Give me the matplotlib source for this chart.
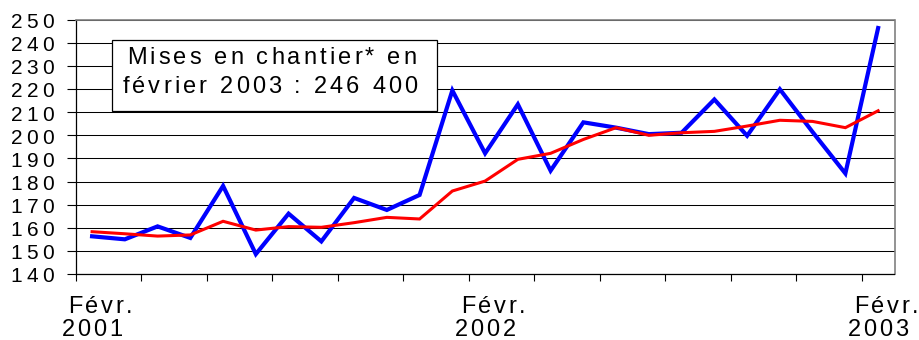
import matplotlib
matplotlib.use("Agg")
import matplotlib.pyplot as plt
from matplotlib.font_manager import FontProperties, findfont, get_font
from matplotlib.patches import Rectangle
import numpy as np

# Housing starts, rolling 12-month totals (thousands), Feb 2001 .. Feb 2003
months = ["2001-02", "2001-03", "2001-04", "2001-05", "2001-06", "2001-07",
          "2001-08", "2001-09", "2001-10", "2001-11", "2001-12", "2002-01",
          "2002-02", "2002-03", "2002-04", "2002-05", "2002-06", "2002-07",
          "2002-08", "2002-09", "2002-10", "2002-11", "2002-12", "2003-01",
          "2003-02"]
starts = [156.3, 155.0, 160.6, 155.6, 178.1, 148.6, 166.1, 154.1, 172.9,
          167.7, 174.2, 219.4, 192.2, 213.4, 184.7, 205.6, 203.3, 200.5,
          201.1, 215.5, 199.8, 219.9, 201.4, 183.5, 246.4]
trend = [158.3, 157.4, 156.4, 156.9, 162.8, 159.0, 160.5, 160.2, 162.2,
         164.5, 163.8, 175.9, 180.2, 189.6, 192.2, 198.2, 203.3, 200.0,
         201.1, 201.7, 204.0, 206.5, 206.0, 203.3, 210.6]

y_ticks = list(range(140, 251, 10))
label_index = [0, 12, 24]
label_month = ["Févr.", "Févr.", "Févr."]
label_year = ["2001", "2002", "2003"]
note_lines = ["Mises en chantier* en", "février 2003 : 246 400"]

FONT = "Liberation Sans"
W, H = 919, 340


def glyph_advances(text, prop):
    font = get_font(findfont(prop))
    font.set_size(prop.get_size_in_points(), 72)
    return [font.load_char(ord(c)).linearHoriAdvance / 65536 for c in text]


def spaced_text(ax, xy, text, size, tracking, xycoords, ha="center",
                dx=0.0, dy=0.0, color="black", zorder=6):
    """Draw text with extra letter spacing (tracking, in points)."""
    prop = FontProperties(family=FONT, size=size)
    adv = glyph_advances(text, prop)
    total = sum(adv) + tracking * (len(text) - 1)
    pos = dx + {"left": 0.0, "center": -total / 2, "right": -total}[ha]
    for ch, a in zip(text, adv):
        if not ch.isspace():
            ax.annotate(ch, xy=xy, xycoords=xycoords, xytext=(pos, dy),
                        textcoords="offset points", ha="left", va="baseline",
                        fontproperties=prop, color=color,
                        annotation_clip=False, zorder=zorder)
        pos += a + tracking


fig = plt.figure(figsize=(W / 100, H / 100), dpi=100)
left, right, top, bottom = 75.7, 894.5, 19.7, 274.0
ax = fig.add_axes([left / W, (H - bottom) / H, (right - left) / W, (bottom - top) / H])

x = np.arange(len(months))
ax.plot(x, starts, color="#0000FF", lw=3.0, zorder=3, solid_joinstyle="miter")
ax.plot(x, trend, color="#FF0000", lw=2.2, zorder=4, solid_joinstyle="miter")

ax.set_xlim(-0.5, len(months) - 0.5)
ax.set_ylim(y_ticks[0], y_ticks[-1])
ax.set_xticks(np.arange(-0.5, len(months) - 1, 2))
ax.set_yticks(y_ticks)
ax.tick_params(axis="both", labelleft=False, labelbottom=False,
               direction="out", color="black", width=0.8)
ax.tick_params(axis="y", length=6.5)
ax.tick_params(axis="x", length=5)
ax.yaxis.grid(True, color="black", lw=0.75, zorder=1)
ax.set_axisbelow(True)

for side in ("top", "right"):
    ax.spines[side].set_color("#808080")
    ax.spines[side].set_linewidth(1.2)
for side in ("left", "bottom"):
    ax.spines[side].set_color("black")
    ax.spines[side].set_linewidth(0.9)

# y tick labels
for v in y_ticks:
    spaced_text(ax, (0, v), str(v), 15, 3.0, ax.get_yaxis_transform(),
                ha="right", dx=-15.7, dy=-6.0)

# x category labels
for i, m, yr in zip(label_index, label_month, label_year):
    spaced_text(ax, (i, 0), m, 17, 2.0, ax.get_xaxis_transform(),
                ha="center", dx=5.8, dy=-28.1)
    spaced_text(ax, (i, 0), yr, 17, 2.0, ax.get_xaxis_transform(),
                ha="center", dx=0.0, dy=-44.6)

# annotation box
bx0, bx1, by0, by1 = 112.3, 437.0, 40.0, 111.3
ax.add_patch(Rectangle((bx0 / W, (H - by1) / H), (bx1 - bx0) / W, (by1 - by0) / H,
                       transform=fig.transFigure, facecolor="white",
                       edgecolor="black", lw=0.9, clip_on=False, zorder=5))
spaced_text(ax, (271.7, H - 64.0), note_lines[0], 17, 2.25, "figure pixels")
spaced_text(ax, (270.0, H - 93.3), note_lines[1], 17, 2.25, "figure pixels")

fig.savefig("out.png", dpi=100)
